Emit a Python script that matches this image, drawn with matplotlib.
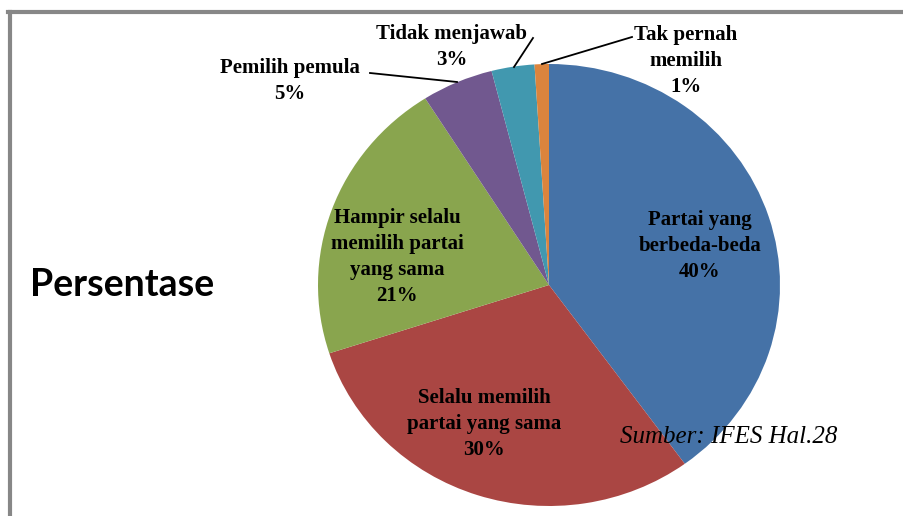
import matplotlib.pyplot as plt
from matplotlib.lines import Line2D
from matplotlib.transforms import Affine2D

# data
labels = ["Partai yang\nberbeda-beda", "Selalu memilih\npartai yang sama",
          "Hampir selalu\nmemilih partai\nyang sama", "Pemilih pemula",
          "Tidak menjawab", "Tak pernah\nmemilih"]
values = [40, 30, 21, 5, 3, 1]
colors = ["#4572A7", "#AA4643", "#89A54E", "#71588F", "#4198AF", "#DB843D"]

W, H = 904, 516
fig = plt.figure(figsize=(W / 100, H / 100), dpi=100)
ax = fig.add_axes([0, 0, 1, 1])

# unit pie, then stretched to the slightly wide ellipse of the original
wedges, _ = ax.pie(values, colors=colors, startangle=90, counterclock=False,
                   frame=True, wedgeprops=dict(linewidth=0))
cx, cy, rx, ry = 549, H - 285, 231, 221
stretch = Affine2D().scale(rx, ry).translate(cx, cy) + ax.transData
for w in wedges:
    w.set_transform(stretch)
ax.set_xlim(0, W)
ax.set_ylim(0, H)
ax.set_aspect("auto")
ax.axis("off")

# label positions (pixels from top-left)
label_pos = [(700, 246), (484, 424), (397, 257), (290, 81), (452, 47), (686, 61)]
font = dict(family="Liberation Serif", weight="bold", fontsize=15,
            color="black", ha="center", va="center", linespacing=1.4)
for lab, v, (x, y) in zip(labels, values, label_pos):
    ax.text(x, H - y, f"{lab}\n{v}%", **font)

# leader lines for the small slices
leaders = [((370, 73), (457, 82)), ((533, 38), (514, 67)), ((632, 37), (542, 64))]
for (x0, y0), (x1, y1) in leaders:
    ax.plot([x0, x1], [H - y0, H - y1], color="black", lw=1.3)

ax.text(620, H - 437, "Sumber: IFES Hal.28", family="Liberation Serif",
        style="italic", fontsize=18, va="center", ha="left")
ax.text(30, H - 285, "Persentase", family="Lato", weight="bold",
        fontsize=27, va="center", ha="left")

# gray frame (top and left edges visible)
fig.add_artist(Line2D([10 / W, 10 / W], [0, 1 - 12 / H], color="#878787",
                      lw=3, transform=fig.transFigure))
fig.add_artist(Line2D([8 / W, 1], [1 - 12 / H, 1 - 12 / H], color="#878787",
                      lw=3, transform=fig.transFigure))

fig.savefig("out.png", dpi=100, facecolor="white")
